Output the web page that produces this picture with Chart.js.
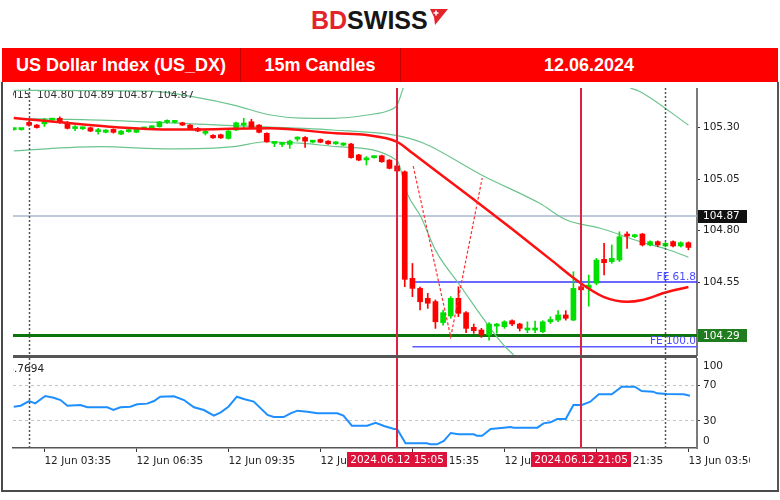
<!DOCTYPE html>
<html>
<head>
<meta charset="utf-8">
<title>US Dollar Index 15m Candles</title>
<script src="https://cdn.jsdelivr.net/npm/chart.js@4.4.1/dist/chart.umd.min.js"></script>
<style>
  body { margin: 0; background: #fff; font-family: "Liberation Sans", Arial, sans-serif; }
  #page { position: relative; width: 780px; height: 500px; overflow: hidden; }
  #logo { position: absolute; left: 311px; top: 6px; height: 28px; line-height: 28px; font-weight: bold; font-size: 25px; white-space: nowrap; display: flex; align-items: center; }
  #logo .bd { color: #e4232b; }
  #logo .sw { color: #161616; }
  #logo svg { margin-left: 1px; margin-top: -6px; }
  #bar { position: absolute; left: 2px; top: 48px; width: 776px; height: 34px; background: #fe0000; }
  #bar .cell { position: absolute; top: 0; height: 34px; line-height: 34px; color: #fff; font-weight: bold; font-size: 18px; text-align: center; }
  #bar .sep { position: absolute; top: 0; width: 1px; height: 34px; background: #c40000; }
  #frame { position: absolute; left: 1px; top: 82px; width: 774px; height: 408px; border-left: 2px solid #4a4a4a; border-right: 2px solid #555; border-bottom: 2px solid #4a4a4a; }
  canvas { position: absolute; left: 0; }
  #price { top: 88px; }
  #rsi { top: 358px; }
  #sep { position: absolute; left: 13px; top: 355px; width: 684px; height: 3px; background: #555; }
</style>
</head>
<body>
<div id="page">
  <div id="logo"><span class="bd">BD</span><span class="sw">SWISS</span>
    <svg width="20" height="18" viewBox="0 0 20 18"><path d="M1 1 H19 L6 17 L5 9 Z" fill="#e4232b"/><path d="M7 2.5v5M4.5 5h5" stroke="#fff" stroke-width="1.6"/></svg>
  </div>
  <div id="bar">
    <div class="cell" style="left:0;width:238px">US Dollar Index (US_DX)</div>
    <div class="sep" style="left:238px"></div>
    <div class="cell" style="left:238px;width:160px">15m Candles</div>
    <div class="sep" style="left:398px"></div>
    <div class="cell" style="left:398px;width:378px">12.06.2024</div>
  </div>
  <div id="frame"></div>
  <canvas id="price" width="750" height="268"></canvas>
  <canvas id="rsi" width="750" height="122"></canvas>
  <div id="sep"></div>
</div>

<script>
// candles, one per 15 minute bar (index 0 = first bar on screen)
var openP = [105.290,105.290,105.325,105.312,105.318,105.336,105.345,105.325,105.295,105.294,
  105.299,105.280,105.277,105.291,105.268,105.280,105.277,105.293,105.299,105.304,
  105.325,105.325,105.323,105.312,105.296,105.272,105.262,105.265,105.247,105.288,
  105.312,105.328,105.312,105.272,105.223,105.218,105.218,105.244,105.252,105.229,
  105.242,105.234,105.221,105.215,105.220,105.167,105.143,105.154,105.163,105.142,
  105.114,105.085,104.568,104.519,104.471,104.455,104.353,104.385,104.471,104.401,
  104.330,104.317,104.293,104.336,104.333,104.362,104.346,104.317,104.317,104.309,
  104.357,104.365,104.390,104.365,104.527,104.520,104.544,104.660,104.649,104.657,
  104.783,104.770,104.783,104.730,104.746,104.725,104.746,104.725,104.741];
var highP = [105.294,105.295,105.330,105.315,105.345,105.342,105.352,105.330,105.310,105.303,
  105.302,105.296,105.290,105.294,105.286,105.292,105.293,105.302,105.308,105.330,
  105.338,105.334,105.326,105.315,105.300,105.286,105.266,105.268,105.286,105.326,
  105.345,105.340,105.315,105.275,105.231,105.226,105.239,105.255,105.256,105.238,
  105.245,105.237,105.232,105.226,105.223,105.170,105.159,105.162,105.166,105.145,
  105.117,105.090,104.640,104.525,104.495,104.463,104.414,104.479,104.527,104.406,
  104.346,104.325,104.353,104.349,104.362,104.367,104.350,104.357,104.360,104.362,
  104.381,104.411,104.411,104.600,104.550,104.584,104.665,104.738,104.730,104.794,
  104.794,104.782,104.786,104.750,104.750,104.742,104.750,104.745,104.745];
var lowP = [105.287,105.287,105.307,105.297,105.305,105.332,105.320,105.293,105.285,105.290,
  105.280,105.268,105.274,105.273,105.265,105.277,105.275,105.290,105.296,105.302,
  105.320,105.322,105.309,105.290,105.280,105.264,105.247,105.247,105.244,105.285,
  105.296,105.296,105.274,105.228,105.207,105.207,105.199,105.234,105.203,105.226,
  105.226,105.218,105.218,105.212,105.151,105.139,105.118,105.151,105.131,105.099,
  105.080,104.527,104.479,104.414,104.422,104.325,104.341,104.374,104.382,104.304,
  104.301,104.281,104.268,104.301,104.325,104.338,104.312,104.304,104.304,104.304,
  104.349,104.357,104.365,104.362,104.500,104.433,104.536,104.584,104.641,104.649,
  104.713,104.766,104.725,104.725,104.722,104.720,104.720,104.720,104.706];
var closeP = [105.293,105.293,105.311,105.300,105.338,105.339,105.328,105.296,105.299,105.299,
  105.283,105.288,105.288,105.277,105.283,105.289,105.291,105.299,105.305,105.328,
  105.328,105.331,105.312,105.293,105.283,105.280,105.250,105.250,105.283,105.323,
  105.320,105.299,105.277,105.231,105.228,105.223,105.234,105.247,105.234,105.234,
  105.229,105.221,105.228,105.223,105.154,105.142,105.147,105.159,105.134,105.102,
  105.089,104.563,104.519,104.454,104.447,104.357,104.401,104.471,104.398,104.325,
  104.314,104.293,104.346,104.346,104.357,104.346,104.325,104.322,104.322,104.357,
  104.368,104.390,104.374,104.519,104.512,104.535,104.657,104.644,104.665,104.770,
  104.773,104.778,104.730,104.746,104.730,104.738,104.725,104.741,104.718];

// red moving average, read at a few bars
var maIdx = [0, 4, 12.5, 21, 33.4, 42, 46, 50, 52, 55, 60, 65, 70, 74, 77, 80, 82, 85, 88];
var maVal = [105.346,105.333,105.304,105.290,105.296,105.272,105.264,105.231,105.176,105.091,
  104.951,104.807,104.660,104.543,104.477,104.454,104.463,104.499,104.526];

// green envelope lines (null = leaves the window)
var upIdx = [0, 17.8, 24, 28.7, 33.5, 37.4, 41.7, 46.1, 49.1, 50, 50.8, 65, 80.4, 81.7, 88];
var upVal = [105.481,105.477,105.445,105.409,105.361,105.346,105.345,105.361,105.385,105.409,105.492,null,105.492,105.474,105.312];
var midIdx = [0, 11.2, 28.6, 41.6, 50, 53.4, 61.2, 68.6, 72.1, 76.5, 81.7, 85.2, 88];
var midVal = [105.344,105.336,105.309,105.288,105.261,105.225,105.066,104.932,104.851,104.811,104.746,104.709,104.670];
var lowIdx = [0, 11.3, 20.4, 28.7, 32.8, 37.8, 42.2, 50, 51.3, 53.1, 55, 58, 63.7, 65.2];
var lowVal = [105.187,105.207,105.196,105.207,105.231,105.223,105.207,105.140,104.981,104.867,104.705,104.544,104.252,104.196];

// zigzag (dotted red)
var zzIdx = [52.1, 57, 61.1];
var zzVal = [105.113, 104.283, 105.055];

// horizontal objects
var bidLevel = 104.87;
var supportLevel = 104.29;
var feStart = 52;
var feLevels = [104.55, 104.236];
var feNames = ['FE 61.8', 'FE 100.0'];

// RSI
var rsiIdx = [0,0.9,2,2.8,4.1,5.2,6.1,7,8.7,9.6,12.2,13,13.9,15.2,16.1,17.4,18.3,19.1,20.9,22.2,
  23.5,24.8,26.1,27,28,29.1,30,31.3,33.1,33.9,35.2,36.1,37,38.3,39.6,42.2,43,44.1,46.1,47.2,
  48.3,49.6,50,51.1,53.9,54.3,55.2,56.1,57,58,60,60.4,61.1,62.2,63.9,64.8,65.2,68.3,69.1,70,
  70.9,72,73,74.1,75.2,76.3,78,79.3,81,81.9,83.4,83.9,85.2,87.4,88.2];
var rsiVal = [45.9,47,52.2,49.6,57.8,55.9,53.3,47,47.8,45.2,45.2,42.2,45.2,45.9,48.5,49.3,52.2,57,57.4,53.3,
  45.2,42.2,35.9,39.6,45.9,57,54.4,51.5,36.7,34.4,34.4,38.5,41.5,40.4,38.5,38.5,35.9,24.8,24.8,28.1,
  24.4,21.1,21,5.2,5.2,4.1,4.1,7.8,16.7,15.2,15.2,13.7,13.7,21.1,22.6,23.3,22.6,22.6,27.4,28.5,
  32.2,32.2,47.8,47.8,51.5,59.6,59.6,68.1,68.1,63.3,62.6,60.7,60,59.6,58.1];
var rsiLevels = [70, 30];

// axes
var priceTicks = [105.30, 105.05, 104.80, 104.55];
var timeIdx = [4, 16, 28, 40, 52, 64, 76, 88];
var timeText = ['12 Jun 03:35', '12 Jun 06:35', '12 Jun 09:35', '12 Jun 12:35', '12 Jun 15:35', '12 Jun 18:35', '12 Jun 21:35', '13 Jun 03:50'];
var eventIdx = [50, 74];
var eventText = ['2024.06.12 15:05', '2024.06.12 21:05'];
var dottedIdx = [2, 85];

var X_MIN = -0.1, X_MAX = 89.12;
var FONT = '"DejaVu Sans", Verdana, sans-serif';

Chart.defaults.font.family = FONT;
Chart.defaults.font.size = 10.5;
Chart.defaults.color = '#222';

function pts(xs, ys) {
  return xs.map(function (x, i) { return { x: x, y: ys[i] }; });
}
function flat(v, from) {
  return [{ x: from, y: v }, { x: X_MAX, y: v }];
}

var candleColors = openP.map(function (o, i) { return closeP[i] >= o ? '#00e000' : '#ff0000'; });
var bodies = openP.map(function (o, i) { return { x: i, y: [o, closeP[i]] }; });
var wicks = lowP.map(function (l, i) { return { x: i, y: [l, highP[i]] }; });

// vertical markers shared by both panels
var markers = {
  id: 'markers',
  afterDatasetsDraw: function (chart) {
    var ctx = chart.ctx, a = chart.chartArea, x = chart.scales.x;
    ctx.save();
    ctx.beginPath();
    ctx.rect(a.left, a.top, a.right - a.left, a.bottom - a.top);
    ctx.clip();
    ctx.strokeStyle = '#555';
    ctx.lineWidth = 1.5;
    ctx.setLineDash([2, 2]);
    dottedIdx.forEach(function (v) {
      var px = Math.round(x.getPixelForValue(v)) + 0.5;
      ctx.beginPath(); ctx.moveTo(px, a.top); ctx.lineTo(px, a.bottom); ctx.stroke();
    });
    ctx.setLineDash([]);
    ctx.strokeStyle = '#e0203f';
    ctx.lineWidth = 2;
    eventIdx.forEach(function (v) {
      var px = Math.round(x.getPixelForValue(v));
      ctx.beginPath(); ctx.moveTo(px, a.top); ctx.lineTo(px, a.bottom); ctx.stroke();
    });
    ctx.restore();
  }
};

var priceText = {
  id: 'priceText',
  afterDraw: function (chart) {
    var ctx = chart.ctx, a = chart.chartArea, y = chart.scales.y;
    ctx.save();
    ctx.font = '10.5px ' + FONT;
    // header line of the window, cut by the panel edges
    ctx.save();
    ctx.beginPath(); ctx.rect(a.left, a.top + 3, a.right - a.left, 20); ctx.clip();
    ctx.fillStyle = '#333';
    ctx.textAlign = 'left'; ctx.textBaseline = 'alphabetic';
    ctx.fillText('M15  104.80 104.89 104.87 104.87', a.left - 5, a.top + 10);
    ctx.restore();
    // Fibonacci expansion labels
    ctx.fillStyle = '#4b4bff';
    ctx.textAlign = 'right'; ctx.textBaseline = 'bottom';
    feLevels.forEach(function (v, k) {
      ctx.fillText(feNames[k], a.right - 1, y.getPixelForValue(v));
    });
    // price boxes on the axis
    [[bidLevel, '#111111'], [supportLevel, '#1f7d1f']].forEach(function (b) {
      var py = y.getPixelForValue(b[0]);
      ctx.fillStyle = b[1];
      ctx.fillRect(a.right + 1, Math.round(py - 6.5), 49, 13);
      ctx.fillStyle = '#fff';
      ctx.textAlign = 'left'; ctx.textBaseline = 'middle';
      ctx.fillText(b[0].toFixed(2), a.right + 6, py + 0.5);
    });
    ctx.restore();
  }
};

var rsiText = {
  id: 'rsiText',
  afterDraw: function (chart) {
    var ctx = chart.ctx, a = chart.chartArea, x = chart.scales.x, y = chart.scales.y;
    ctx.save();
    ctx.font = '10.5px ' + FONT;
    ctx.fillStyle = '#222';
    ctx.textAlign = 'left'; ctx.textBaseline = 'middle';
    ctx.fillText('100', a.right + 6, y.getPixelForValue(100) + 8);
    ctx.fillText('0', a.right + 6, y.getPixelForValue(0) - 7);
    // indicator value, cut at the left edge
    ctx.save();
    ctx.beginPath(); ctx.rect(a.left, a.top, a.right - a.left, 20); ctx.clip();
    ctx.textBaseline = 'alphabetic';
    var head = '58';
    ctx.fillText(head + '.7694', a.left + 1 - ctx.measureText(head).width, a.top + 14);
    ctx.restore();
    // time stamps of the marked bars
    eventIdx.forEach(function (v, k) {
      var px = x.getPixelForValue(v);
      var w = Math.round(ctx.measureText(eventText[k]).width + 6);
      ctx.fillStyle = '#dc143c';
      ctx.fillRect(Math.round(px - w / 2), a.bottom + 4, w, 15);
      ctx.fillStyle = '#fff';
      ctx.textAlign = 'center'; ctx.textBaseline = 'middle';
      ctx.fillText(eventText[k], px, a.bottom + 12);
    });
    ctx.restore();
  }
};

new Chart(document.getElementById('price'), {
  type: 'line',
  data: {
    datasets: [
      { data: flat(bidLevel, X_MIN), borderColor: '#a9b9cf', borderWidth: 1.5, pointRadius: 0, order: 10 },
      { data: flat(supportLevel, X_MIN), borderColor: '#0b750b', borderWidth: 3, pointRadius: 0, order: 10 },
      { data: flat(feLevels[0], feStart), borderColor: '#3838ff', borderWidth: 1.5, pointRadius: 0, order: 10 },
      { data: flat(feLevels[1], feStart), borderColor: '#5a5aff', borderWidth: 1.5, pointRadius: 0, order: 10 },
      { data: pts(upIdx, upVal), borderColor: '#6cc48e', borderWidth: 1.2, pointRadius: 0, cubicInterpolationMode: 'monotone', order: 8 },
      { data: pts(midIdx, midVal), borderColor: '#6cc48e', borderWidth: 1.2, pointRadius: 0, cubicInterpolationMode: 'monotone', order: 8 },
      { data: pts(lowIdx, lowVal), borderColor: '#6cc48e', borderWidth: 1.2, pointRadius: 0, cubicInterpolationMode: 'monotone', order: 8 },
      { type: 'bar', data: wicks, backgroundColor: candleColors, barThickness: 1, grouped: false, order: 5 },
      { type: 'bar', data: bodies, backgroundColor: candleColors, barThickness: 5, minBarLength: 2, grouped: false, order: 4 },
      { data: pts(maIdx, maVal), borderColor: '#ff1010', borderWidth: 2.5, pointRadius: 0, cubicInterpolationMode: 'monotone', order: 3 },
      { data: pts(zzIdx, zzVal), borderColor: '#ff3030', borderWidth: 1.2, borderDash: [3, 2], pointRadius: 0, order: 2 }
    ]
  },
  options: {
    responsive: false,
    animation: false,
    events: [],
    layout: { padding: { left: 13, right: 0, top: 0, bottom: 0 } },
    plugins: { legend: { display: false }, tooltip: { enabled: false } },
    scales: {
      x: { type: 'linear', min: X_MIN, max: X_MAX, display: false, offset: false },
      y: {
        position: 'right', min: 104.1908, max: 105.492,
        afterBuildTicks: function (s) { s.ticks = priceTicks.map(function (v) { return { value: v }; }); },
        afterFit: function (s) { s.width = 53; s.paddingTop = 0; s.paddingBottom = 0; },
        ticks: { padding: 3, callback: function (v) { return v.toFixed(2); } },
        grid: { drawOnChartArea: false, drawTicks: true, tickLength: 3, tickColor: '#333' },
        border: { display: true, color: '#7a7a7a', width: 2 }
      }
    }
  },
  plugins: [markers, priceText]
});

new Chart(document.getElementById('rsi'), {
  type: 'line',
  data: {
    datasets: [
      { data: pts(rsiIdx, rsiVal), borderColor: '#1e8fff', borderWidth: 2, pointRadius: 0 }
    ]
  },
  options: {
    responsive: false,
    animation: false,
    events: [],
    layout: { padding: { left: 13, right: 0, top: 0, bottom: 0 } },
    plugins: { legend: { display: false }, tooltip: { enabled: false } },
    scales: {
      x: {
        type: 'linear', min: X_MIN, max: X_MAX, offset: false,
        afterBuildTicks: function (s) { s.ticks = timeIdx.map(function (v) { return { value: v }; }); },
        afterFit: function (s) { s.height = 32; s.paddingLeft = 0; s.paddingRight = 0; },
        ticks: {
          autoSkip: false, maxRotation: 0, minRotation: 0, align: 'start', padding: 3,
          callback: function (v) { return timeText[timeIdx.indexOf(v)]; }
        },
        grid: { drawOnChartArea: false, drawTicks: true, tickLength: 4, tickColor: '#333' },
        border: { display: true, color: '#555', width: 1.5 }
      },
      y: {
        position: 'right', min: 0, max: 100,
        afterBuildTicks: function (s) { s.ticks = rsiLevels.map(function (v) { return { value: v }; }); },
        afterFit: function (s) { s.width = 53; s.paddingTop = 0; s.paddingBottom = 0; },
        ticks: { padding: 3 },
        grid: { color: '#c4c4c4', tickColor: '#333', tickLength: 3 },
        border: { display: true, color: '#7a7a7a', width: 2, dash: [3, 3] }
      }
    }
  },
  plugins: [markers, rsiText]
});
</script>
</body>
</html>
